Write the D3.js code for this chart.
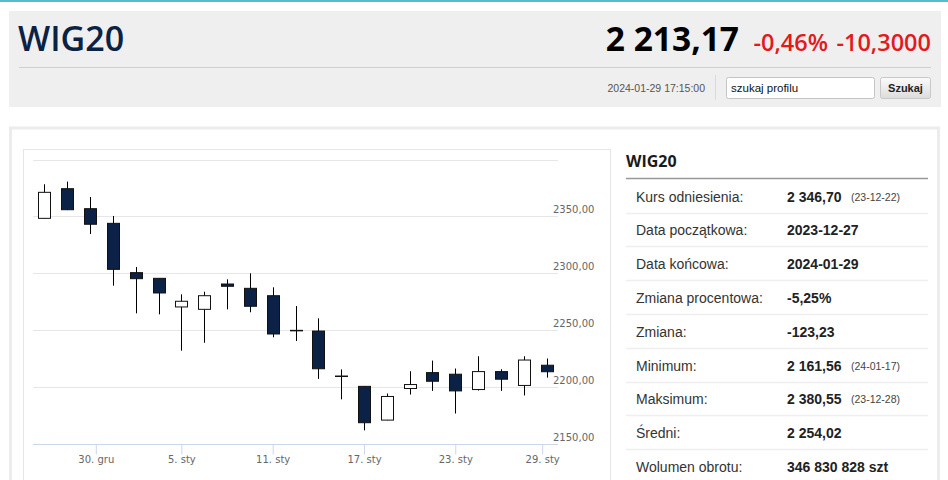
<!DOCTYPE html>
<html>
<head>
  <meta charset="utf-8">
  <title>WIG20</title>
  <style>
    body { margin: 0; background: #fff; }
    svg { display: block; }
    .grid line { stroke: #e6e6e6; stroke-width: 1px; }
    .ylabel, .x-axis text { font-family: "DejaVu Sans", sans-serif; font-size: 10px; fill: #666; }
    .x-axis line { stroke: #ccd6eb; }
    .x-axis path { display: none; }
    .wick { stroke: #000; stroke-width: 1px; }
    .body { stroke: #111; stroke-width: 1px; }
    .stat-label { font-family: "Liberation Sans", Arial, sans-serif; font-size: 14px; fill: #333; }
    .stat-value { font-family: "Liberation Sans", Arial, sans-serif; font-size: 14px; font-weight: bold; fill: #222; }
    .stat-note { font-family: "Liberation Sans", Arial, sans-serif; font-size: 10.5px; fill: #444; }
  </style>
</head>
<body>
  <svg width="948" height="480"></svg>
  <script src="https://d3js.org/d3.v7.min.js"></script>
  <script>
    // Daily candles (last one is the intraday point at 17:15)
    const days = [
      "2023-12-27", "2023-12-28", "2023-12-29", "2024-01-02", "2024-01-03",
      "2024-01-04", "2024-01-05", "2024-01-08", "2024-01-09", "2024-01-10",
      "2024-01-11", "2024-01-12", "2024-01-15", "2024-01-16", "2024-01-17",
      "2024-01-18", "2024-01-19", "2024-01-22", "2024-01-23", "2024-01-24",
      "2024-01-25", "2024-01-26", "2024-01-29 17:15"
    ];
    const open = [
      2348.2, 2374.3, 2356.7, 2343.8, 2300.4, 2295.4, 2270.2, 2268.1, 2290.4, 2286.6,
      2280.1, 2249.6, 2249.0, 2209.4, 2200.3, 2170.6, 2198.4, 2212.4, 2211.0, 2197.5,
      2213.3, 2201.1, 2218.9
    ];
    const high = [
      2378.2, 2380.55, 2367.0, 2350.3, 2305.4, 2295.6, 2281.3, 2283.6, 2294.5, 2299.8,
      2287.5, 2271.0, 2260.2, 2215.2, 2200.6, 2194.0, 2213.6, 2223.0, 2216.0, 2226.8,
      2215.4, 2226.8, 2224.8
    ];
    const low = [
      2348.0, 2355.5, 2334.4, 2288.9, 2264.6, 2263.7, 2231.7, 2238.7, 2268.1, 2265.5,
      2243.5, 2240.2, 2206.9, 2188.9, 2161.56, 2170.4, 2193.1, 2196.3, 2176.4, 2196.6,
      2196.3, 2192.3, 2208.0
    ];
    const close = [
      2371.1, 2355.8, 2343.0, 2303.3, 2295.1, 2282.5, 2275.2, 2280.1, 2288.4, 2270.8,
      2246.4, 2249.3, 2215.8, 2209.0, 2168.3, 2191.4, 2201.9, 2204.8, 2196.3, 2213.3,
      2206.6, 2223.47, 2213.17
    ];

    const yTicks = [2150, 2200, 2250, 2300, 2350, 2400];
    const xTickDates = ["2023-12-30", "2024-01-05", "2024-01-11", "2024-01-17", "2024-01-23", "2024-01-29"];
    const xTickLabels = ["30. gru", "5. sty", "11. sty", "17. sty", "23. sty", "29. sty"];

    const statLabels = ["Kurs odniesienia:", "Data początkowa:", "Data końcowa:", "Zmiana procentowa:",
      "Zmiana:", "Minimum:", "Maksimum:", "Średni:", "Wolumen obrotu:"];
    const statValues = ["2 346,70", "2023-12-27", "2024-01-29", "-5,25%",
      "-123,23", "2 161,56", "2 380,55", "2 254,02", "346 830 828 szt"];
    const statNotes = ["(23-12-22)", "", "", "", "", "(24-01-17)", "(23-12-28)", "", ""];

    const svg = d3.select("svg");
    const parse = s => d3.utcParse(s.length > 10 ? "%Y-%m-%d %H:%M" : "%Y-%m-%d")(s);
    const dates = days.map(parse);
    const n = dates.length;

    // Page frame
    svg.append("rect").attr("x", 0).attr("y", 0).attr("width", 948).attr("height", 2).attr("fill", "#56bccf");
    svg.append("rect").attr("x", 9).attr("y", 11).attr("width", 932).attr("height", 96).attr("fill", "#efefef");
    svg.append("line").attr("x1", 19).attr("x2", 931).attr("y1", 67.5).attr("y2", 67.5).attr("stroke", "#cfcfcf");

    svg.append("text").attr("x", 18).attr("y", 51)
      .style("font-family", "'Open Sans', sans-serif").style("font-weight", 600)
      .style("font-size", "34px").attr("fill", "#0a2244").text("WIG20");

    const quote = svg.append("g").style("font-family", "'Open Sans', sans-serif");
    quote.append("text").attr("x", 739).attr("y", 51).attr("text-anchor", "end")
      .style("font-weight", 700).style("font-size", "33.5px").attr("fill", "#000").text("2 213,17");
    quote.append("text").attr("x", 828).attr("y", 51).attr("text-anchor", "end")
      .style("font-weight", 600).style("font-size", "23.5px").attr("fill", "#e3191d").text("-0,46%");
    quote.append("text").attr("x", 931).attr("y", 51).attr("text-anchor", "end")
      .style("font-weight", 600).style("font-size", "23.5px").attr("fill", "#e3191d").text("-10,3000");

    svg.append("text").attr("x", 705).attr("y", 92).attr("text-anchor", "end")
      .style("font-family", "'Liberation Sans', Arial, sans-serif").style("font-size", "10.5px")
      .attr("fill", "#555").text("2024-01-29 17:15:00");
    svg.append("line").attr("x1", 715.5).attr("x2", 715.5).attr("y1", 75).attr("y2", 100).attr("stroke", "#dadada");

    svg.append("rect").attr("x", 726.5).attr("y", 77.5).attr("width", 148).attr("height", 21).attr("rx", 2)
      .attr("fill", "#fff").attr("stroke", "#c4c4c4");
    svg.append("text").attr("x", 731).attr("y", 92)
      .style("font-family", "'Liberation Sans', Arial, sans-serif").style("font-size", "11.5px")
      .attr("fill", "#111").text("szukaj profilu");

    const grad = svg.append("defs").append("linearGradient").attr("id", "btn").attr("x2", 0).attr("y2", 1);
    grad.append("stop").attr("offset", 0).attr("stop-color", "#fbfbfb");
    grad.append("stop").attr("offset", 1).attr("stop-color", "#dcdcdc");
    svg.append("rect").attr("x", 880.5).attr("y", 77.5).attr("width", 50).attr("height", 21).attr("rx", 2)
      .attr("fill", "url(#btn)").attr("stroke", "#c8c8c8");
    svg.append("text").attr("x", 905.5).attr("y", 92).attr("text-anchor", "middle")
      .style("font-family", "'Liberation Sans', Arial, sans-serif").style("font-size", "11px")
      .style("font-weight", "bold").attr("fill", "#222").text("Szukaj");

    // Panels
    svg.append("rect").attr("x", 10.5).attr("y", 128).attr("width", 928).attr("height", 360)
      .attr("fill", "#fff").attr("stroke", "#ececec").attr("stroke-width", 3);
    svg.append("rect").attr("x", 23.5).attr("y", 149.5).attr("width", 587).attr("height", 340)
      .attr("fill", "#fff").attr("stroke", "#e6e6e6");

    // Scales
    const plotLeft = 33, plotRight = 558;
    const xIndex = d3.scaleLinear().domain([-0.5, n - 0.5]).range([plotLeft, plotRight]);
    const x = d3.scaleLinear().domain(dates).range(d3.range(n).map(i => xIndex(i)));
    const y = d3.scaleLinear().domain([2150, 2400]).range([443.5, 159.5]);
    const crisp = v => Math.round(v) + 0.5;

    const pl = d3.formatLocale({ decimal: ",", thousands: " ", grouping: [3], currency: ["", ""] });
    const fmt = pl.format(".2f");

    // Grid
    svg.append("g").attr("class", "grid")
      .selectAll("line").data(yTicks).join("line")
      .attr("x1", plotLeft).attr("x2", plotRight)
      .attr("y1", d => crisp(y(d))).attr("y2", d => crisp(y(d)));

    svg.append("g").selectAll("text").data(yTicks.filter(d => d < 2400)).join("text")
      .attr("class", "ylabel")
      .attr("x", 553).attr("y", d => y(d) - 3)
      .text(d => fmt(d));

    // X axis
    svg.append("line").attr("x1", plotLeft).attr("x2", plotRight)
      .attr("y1", crisp(y(2150))).attr("y2", crisp(y(2150))).attr("stroke", "#ccd6eb");
    svg.append("g").attr("class", "x-axis")
      .attr("transform", `translate(0,${crisp(y(2150))})`)
      .call(d3.axisBottom(x)
        .tickValues(xTickDates.map(parse))
        .tickFormat((d, i) => xTickLabels[i])
        .tickSize(10).tickPadding(1.5));

    // Candles
    const candles = svg.append("g").selectAll("g").data(d3.range(n)).join("g");
    candles.append("line").attr("class", "wick")
      .attr("x1", i => crisp(x(dates[i]))).attr("x2", i => crisp(x(dates[i])))
      .attr("y1", i => y(high[i])).attr("y2", i => y(low[i]));
    candles.append("rect").attr("class", "body")
      .attr("x", i => crisp(x(dates[i])) - 6)
      .attr("width", 12)
      .attr("y", i => y(Math.max(open[i], close[i])))
      .attr("height", i => Math.max(0.5, Math.abs(y(open[i]) - y(close[i]))))
      .attr("fill", i => close[i] >= open[i] ? "#fff" : "#0b2145");

    // Stats table
    const table = svg.append("g");
    table.append("text").attr("x", 626).attr("y", 167)
      .style("font-family", "'Open Sans', sans-serif").style("font-weight", 700)
      .style("font-size", "16px").attr("fill", "#1a1a1a").text("WIG20");
    table.append("line").attr("x1", 626).attr("x2", 928).attr("y1", 178.5).attr("y2", 178.5)
      .attr("stroke", "#999").attr("stroke-width", 1.5);

    const rowY = i => 201.5 + i * 33.8;
    const rows = table.selectAll("g.row").data(statLabels).join("g").attr("class", "row");
    rows.filter((d, i) => i < statLabels.length - 1).append("line")
      .attr("x1", 626).attr("x2", 928)
      .attr("y1", (d, i) => crisp(rowY(i) + 11)).attr("y2", (d, i) => crisp(rowY(i) + 11))
      .attr("stroke", "#eeeeee").attr("stroke-width", 1.5);
    rows.append("text").attr("class", "stat-label")
      .attr("x", 636).attr("y", (d, i) => rowY(i)).text(d => d);
    rows.append("text").attr("class", "stat-value")
      .attr("x", 787).attr("y", (d, i) => rowY(i)).text((d, i) => statValues[i]);
    rows.append("text").attr("class", "stat-note")
      .attr("x", 851).attr("y", (d, i) => rowY(i) - 1).text((d, i) => statNotes[i]);
  </script>
</body>
</html>
